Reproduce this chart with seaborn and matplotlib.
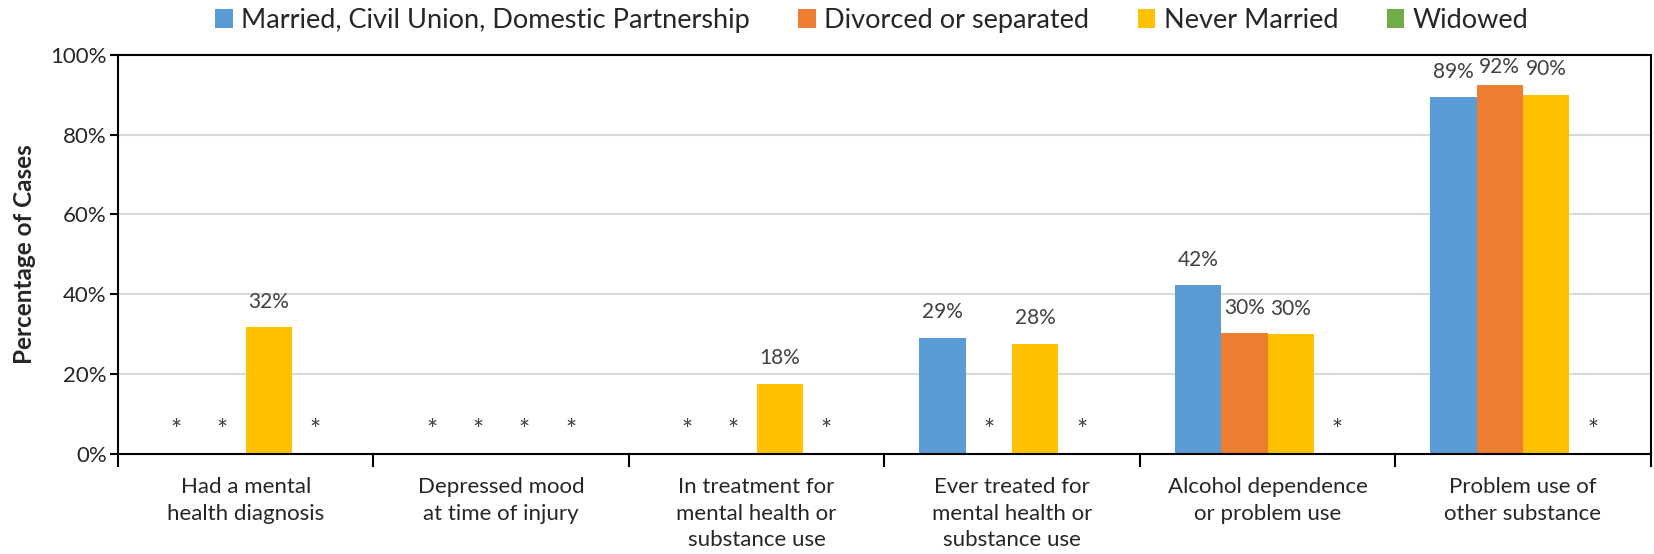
import numpy as np
import pandas as pd
import seaborn as sns
import matplotlib.pyplot as plt
from matplotlib.patches import Patch

# categories and series (NaN = suppressed, shown as *)
categories = ['Had a mental\nhealth diagnosis',
              'Depressed mood\nat time of injury',
              'In treatment for\nmental health or\nsubstance use',
              'Ever treated for\nmental health or\nsubstance use',
              'Alcohol dependence\nor problem use',
              'Problem use of\nother substance']
groups = ['Married, Civil Union, Domestic Partnership', 'Divorced or separated',
          'Never Married', 'Widowed']
married = [np.nan, np.nan, np.nan, 29.1, 42.2, 89.4]
divorced = [np.nan, np.nan, np.nan, np.nan, 30.2, 92.4]
never_married = [31.7, np.nan, 17.6, 27.6, 30.0, 90.0]
widowed = [np.nan, np.nan, np.nan, np.nan, np.nan, np.nan]
colors = ['#5B9BD5', '#ED7D31', '#FFC000', '#70AD47']

series = [married, divorced, never_married, widowed]
rows = []
for g, vals in zip(groups, series):
    for c, v in zip(categories, vals):
        rows.append({'category': c, 'group': g, 'value': v})
df = pd.DataFrame(rows)
df['plot_value'] = df['value'].fillna(0)

sns.set_style('white')
plt.rcParams['font.family'] = ['Lato', 'DejaVu Sans']

fig = plt.figure(figsize=(16.54, 5.54), dpi=100)
ax = fig.add_axes([0.0713, 0.181, 0.9267, 0.7197])

sns.barplot(data=df, x='category', y='plot_value', hue='group',
            order=categories, hue_order=groups, palette=colors,
            width=0.727, linewidth=0, saturation=1, errorbar=None,
            legend=False, ax=ax)

# data labels / asterisks (labels kept inside the plot area like Excel)
for cont, vals in zip(ax.containers, series):
    for bar, v in zip(cont, vals):
        xc = bar.get_x() + bar.get_width() / 2
        if np.isnan(v):
            ax.text(xc, 5.6, '*', ha='center', va='center', fontsize=19, color='#404040')
        else:
            ax.text(xc, min(v + 6.4, 97.0), f'{v:.0f}%', ha='center', va='center',
                    fontsize=15, color='#404040')

ax.set_ylim(0, 100)
ax.set_xlim(-0.5, len(categories) - 0.5)
ax.set_yticks([0, 20, 40, 60, 80, 100])
ax.set_yticklabels([f'{t}%' for t in [0, 20, 40, 60, 80, 100]], fontsize=16)
ax.yaxis.grid(True, color='#D9D9D9', linewidth=1.5)
ax.set_axisbelow(True)

# category boundary ticks, labels centred
ax.set_xticks(np.arange(-0.5, len(categories)), minor=False)
ax.set_xticklabels([])
ax.set_xticks(np.arange(len(categories)), minor=True)
ax.set_xticklabels(categories, minor=True, fontsize=16, linespacing=1.4)
ax.tick_params(axis='x', which='major', direction='out', length=9, width=1.5, color='black', bottom=True)
ax.tick_params(axis='x', which='minor', length=0, pad=17)
ax.tick_params(axis='y', direction='out', length=6, width=1.5, color='black', left=True, pad=2)

for s in ax.spines.values():
    s.set_color('black')
    s.set_linewidth(1.5)

ax.set_xlabel('')
ax.set_ylabel('Percentage of Cases', fontsize=17.5, fontweight='bold', labelpad=10)

handles = [Patch(facecolor=c, edgecolor='none') for c in colors]
fig.legend(handles, groups, loc='center', bbox_to_anchor=(0.527, 0.963), ncol=4,
           frameon=False, fontsize=19.5, handlelength=0.65, handleheight=0.65,
           handletextpad=0.3, columnspacing=1.8)

fig.savefig('out.png', dpi=100)
